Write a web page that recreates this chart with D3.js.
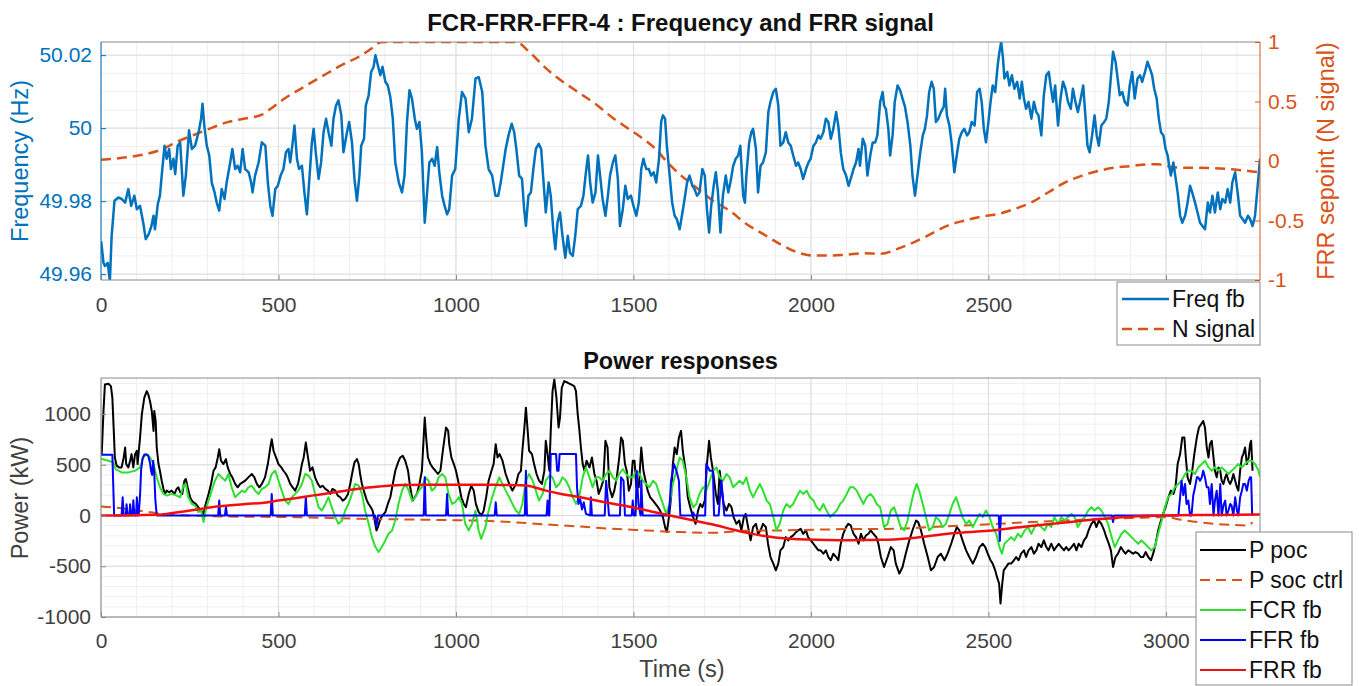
<!DOCTYPE html>
<html>
<head>
<meta charset="utf-8">
<title>FCR-FRR-FFR-4</title>
<script src="https://cdn.jsdelivr.net/npm/d3@7"></script>
<style>
    html, body { margin: 0; padding: 0; background: #fff; }
    svg { display: block; font-family: "Liberation Sans", Arial, sans-serif; }
</style>
</head>
<body>
<div id="chartContainer"></div>
<script>
// ---- data ----
const timeTicks = [0, 500, 1000, 1500, 2000, 2500, 3000];
const freqTicks = [49.96, 49.98, 50, 50.02];
const nTicks = [-1, -0.5, 0, 0.5, 1];
const powerTicks = [-1000, -500, 0, 500, 1000];

// [time s, frequency Hz]
const freqFb = [[0,49.9690],[2,49.9677],[7,49.9631],[11,49.9622],[19,49.9631],[25,49.9581],[30,49.9705],[38,49.9801],[49,49.9810],[58,49.9806],[68,49.9796],[77,49.9833],[85,49.9787],[94,49.9815],[101,49.9778],[110,49.9787],[119,49.9741],[126,49.9696],[134,49.9709],[141,49.9728],[148,49.9760],[152,49.9723],[160,49.9792],[166,49.9815],[171,49.9870],[179,49.9952],[185,49.9916],[192,49.9943],[197,49.9888],[204,49.9916],[209,49.9874],[216,49.9952],[223,49.9961],[232,49.9815],[239,49.9870],[248,49.9994],[256,49.9943],[265,49.9952],[275,49.9989],[282,50.0026],[286,50.0067],[291,50.0007],[298,49.9952],[305,49.9925],[312,49.9851],[320,49.9824],[326,49.9796],[333,49.9774],[340,49.9833],[348,49.9806],[354,49.9851],[364,49.9906],[370,49.9943],[378,49.9888],[385,49.9897],[392,49.9879],[399,49.9943],[406,49.9888],[416,49.9879],[423,49.9851],[427,49.9824],[434,49.9870],[444,49.9906],[453,49.9961],[463,49.9952],[470,49.9851],[477,49.9787],[483,49.9760],[491,49.9833],[498,49.9842],[506,49.9870],[514,49.9888],[521,49.9934],[528,49.9943],[533,49.9906],[540,49.9961],[545,50.0007],[552,49.9916],[558,49.9888],[566,49.9897],[573,49.9824],[580,49.9764],[587,49.9861],[594,49.9961],[599,49.9998],[605,49.9934],[613,49.9861],[620,49.9906],[627,49.9989],[634,50.0026],[641,49.9989],[649,49.9952],[655,50.0026],[662,50.0062],[669,50.0076],[677,50.0035],[683,49.9934],[693,49.9989],[699,50.0017],[707,49.9961],[714,49.9861],[721,49.9801],[728,49.9870],[733,49.9952],[741,49.9971],[746,50.0062],[754,50.0090],[761,50.0154],[768,50.0168],[773,50.0200],[780,50.0172],[787,50.0145],[793,50.0168],[801,50.0127],[808,50.0117],[815,50.0085],[822,50.0026],[829,49.9906],[839,49.9851],[848,49.9824],[855,49.9870],[862,50.0017],[869,50.0104],[876,50.0081],[884,50.0026],[890,49.9998],[897,50.0017],[904,49.9934],[912,49.9741],[918,49.9815],[925,49.9906],[933,49.9916],[940,49.9897],[947,49.9948],[953,49.9879],[961,49.9815],[968,49.9787],[975,49.9764],[981,49.9778],[989,49.9870],[998,49.9888],[1008,50.0026],[1017,50.0099],[1027,50.0081],[1036,49.9989],[1045,50.0026],[1055,50.0136],[1064,50.0140],[1074,50.0099],[1083,49.9952],[1092,49.9888],[1102,49.9870],[1111,49.9815],[1119,49.9815],[1126,49.9851],[1133,49.9897],[1140,49.9943],[1148,49.9980],[1157,50.0012],[1164,49.9989],[1170,49.9943],[1178,49.9870],[1186,49.9861],[1192,49.9778],[1197,49.9732],[1204,49.9815],[1211,49.9824],[1218,49.9888],[1225,49.9943],[1233,49.9957],[1240,49.9943],[1246,49.9861],[1253,49.9769],[1261,49.9851],[1267,49.9815],[1274,49.9723],[1280,49.9668],[1286,49.9741],[1293,49.9769],[1300,49.9705],[1308,49.9645],[1315,49.9705],[1321,49.9659],[1329,49.9650],[1336,49.9705],[1343,49.9778],[1352,49.9787],[1359,49.9815],[1366,49.9879],[1372,49.9925],[1378,49.9851],[1385,49.9796],[1393,49.9824],[1400,49.9925],[1406,49.9870],[1413,49.9806],[1421,49.9760],[1428,49.9815],[1434,49.9870],[1442,49.9906],[1449,49.9925],[1456,49.9861],[1462,49.9732],[1470,49.9778],[1477,49.9842],[1484,49.9806],[1493,49.9815],[1500,49.9787],[1508,49.9760],[1515,49.9796],[1522,49.9888],[1528,49.9916],[1536,49.9888],[1543,49.9888],[1550,49.9870],[1557,49.9879],[1564,49.9851],[1572,49.9916],[1578,50.0017],[1583,50.0035],[1589,50.0026],[1594,49.9952],[1602,49.9870],[1609,49.9796],[1616,49.9760],[1622,49.9751],[1630,49.9723],[1638,49.9769],[1644,49.9806],[1651,49.9851],[1658,49.9870],[1666,49.9842],[1672,49.9833],[1679,49.9815],[1686,49.9824],[1694,49.9888],[1701,49.9870],[1707,49.9778],[1713,49.9714],[1719,49.9787],[1726,49.9842],[1732,49.9879],[1738,49.9824],[1745,49.9714],[1752,49.9815],[1760,49.9870],[1767,49.9824],[1773,49.9851],[1781,49.9897],[1788,49.9916],[1795,49.9925],[1801,49.9952],[1809,49.9815],[1814,49.9796],[1818,49.9870],[1826,49.9961],[1832,49.9989],[1837,49.9998],[1845,49.9943],[1851,49.9824],[1858,49.9897],[1865,49.9906],[1873,49.9934],[1880,50.0044],[1886,50.0072],[1894,50.0099],[1901,50.0108],[1908,50.0062],[1914,49.9952],[1922,49.9961],[1929,49.9989],[1936,49.9961],[1943,49.9952],[1950,49.9925],[1958,49.9897],[1964,49.9906],[1971,49.9888],[1978,49.9861],[1986,49.9888],[1993,49.9906],[1999,49.9916],[2007,49.9952],[2014,49.9961],[2021,49.9980],[2027,49.9971],[2035,49.9989],[2042,50.0026],[2049,50.0017],[2056,49.9971],[2063,49.9998],[2071,50.0044],[2077,50.0007],[2084,49.9934],[2091,49.9888],[2099,49.9870],[2106,49.9842],[2112,49.9861],[2120,49.9888],[2127,49.9906],[2134,49.9943],[2138,49.9897],[2146,49.9971],[2153,49.9952],[2159,49.9870],[2167,49.9925],[2174,49.9961],[2181,49.9961],[2187,49.9980],[2195,50.0072],[2202,50.0099],[2206,50.0062],[2211,50.0053],[2218,49.9998],[2223,49.9925],[2230,49.9980],[2236,50.0072],[2244,50.0117],[2251,50.0104],[2258,50.0081],[2265,50.0058],[2272,50.0017],[2280,49.9952],[2286,49.9870],[2293,49.9815],[2300,49.9870],[2308,49.9934],[2315,49.9980],[2321,49.9998],[2327,50.0035],[2333,50.0099],[2340,50.0127],[2346,50.0108],[2352,50.0017],[2359,50.0026],[2366,50.0044],[2374,50.0058],[2378,50.0108],[2383,50.0035],[2390,50.0007],[2396,49.9961],[2404,49.9879],[2412,49.9934],[2418,49.9971],[2425,49.9989],[2432,49.9998],[2440,49.9980],[2446,49.9989],[2453,50.0017],[2461,50.0007],[2468,50.0099],[2475,50.0108],[2481,50.0072],[2487,49.9998],[2493,49.9961],[2500,50.0017],[2506,50.0072],[2512,50.0117],[2519,50.0099],[2526,50.0172],[2531,50.0209],[2536,50.0237],[2541,50.0191],[2545,50.0136],[2553,50.0154],[2559,50.0117],[2566,50.0145],[2573,50.0108],[2581,50.0127],[2588,50.0081],[2594,50.0127],[2600,50.0081],[2606,50.0053],[2613,50.0072],[2621,50.0026],[2628,50.0072],[2635,50.0044],[2641,50.0035],[2649,49.9980],[2656,50.0090],[2663,50.0145],[2670,50.0154],[2675,50.0117],[2682,50.0072],[2688,50.0117],[2696,50.0007],[2703,50.0081],[2710,50.0127],[2717,50.0108],[2724,50.0072],[2732,50.0053],[2738,50.0108],[2745,50.0072],[2752,50.0044],[2760,50.0081],[2767,50.0117],[2773,50.0035],[2779,49.9952],[2785,49.9934],[2792,49.9980],[2799,50.0035],[2805,49.9980],[2811,49.9952],[2818,50.0007],[2826,50.0017],[2832,50.0026],[2839,50.0072],[2847,50.0163],[2851,50.0209],[2858,50.0182],[2864,50.0136],[2870,50.0090],[2877,50.0099],[2884,50.0072],[2892,50.0062],[2898,50.0117],[2905,50.0154],[2912,50.0081],[2920,50.0136],[2927,50.0145],[2933,50.0127],[2941,50.0154],[2948,50.0182],[2955,50.0163],[2961,50.0145],[2967,50.0108],[2974,50.0081],[2980,50.0026],[2986,49.9989],[2993,49.9980],[2999,49.9943],[3005,49.9925],[3009,49.9897],[3014,49.9870],[3021,49.9906],[3025,49.9879],[3033,49.9824],[3040,49.9760],[3046,49.9741],[3054,49.9760],[3061,49.9796],[3068,49.9842],[3074,49.9824],[3082,49.9796],[3089,49.9769],[3096,49.9741],[3103,49.9732],[3110,49.9723],[3118,49.9796],[3124,49.9769],[3131,49.9815],[3138,49.9769],[3146,49.9824],[3153,49.9778],[3159,49.9806],[3167,49.9796],[3174,49.9833],[3181,49.9796],[3187,49.9851],[3195,49.9879],[3203,49.9815],[3209,49.9760],[3216,49.9751],[3223,49.9741],[3231,49.9760],[3237,49.9751],[3244,49.9732],[3251,49.9760],[3256,49.9815],[3261,49.9870],[3265,49.9916]];

// [time s, N signal]
const nSignal = [[0,0.01],[77,0.033],[124,0.056],[171,0.097],[218,0.167],[265,0.223],[312,0.279],[359,0.329],[406,0.357],[453,0.39],[481,0.446],[519,0.529],[566,0.613],[622,0.71],[679,0.808],[735,0.891],[763,0.947],[787,0.997],[800,1],[1169,1],[1206,0.919],[1253,0.78],[1300,0.669],[1348,0.571],[1395,0.474],[1442,0.362],[1489,0.265],[1536,0.167],[1564,0.097],[1592,0.0],[1630,-0.111],[1677,-0.223],[1724,-0.334],[1771,-0.418],[1818,-0.529],[1865,-0.613],[1912,-0.696],[1960,-0.766],[2007,-0.794],[2054,-0.794],[2101,-0.786],[2150,-0.776],[2197,-0.78],[2244,-0.738],[2291,-0.682],[2338,-0.613],[2385,-0.543],[2432,-0.501],[2479,-0.468],[2526,-0.446],[2573,-0.404],[2621,-0.348],[2668,-0.265],[2715,-0.181],[2762,-0.125],[2809,-0.084],[2856,-0.056],[2903,-0.042],[2950,-0.028],[2978,-0.028],[3016,-0.05],[3054,-0.056],[3091,-0.056],[3138,-0.061],[3186,-0.07],[3233,-0.084],[3265,-0.097]];

// [time s, kW]
const pPoc = [[0,600],[2,605],[7,1030],[11,1292],[21,1298],[28,1275],[32,1161],[36,834],[39,572],[44,491],[51,474],[58,474],[64,572],[68,670],[71,507],[77,474],[82,540],[86,605],[91,474],[96,605],[101,638],[103,507],[110,768],[115,997],[122,1161],[129,1226],[133,1194],[138,1128],[143,1030],[148,834],[150,1030],[154,932],[157,670],[162,507],[166,441],[171,343],[176,262],[180,213],[185,245],[192,229],[199,245],[207,213],[213,262],[218,278],[223,229],[229,213],[235,343],[239,360],[244,278],[251,180],[256,147],[260,131],[267,114],[274,82],[282,49],[289,16],[295,114],[303,213],[310,311],[317,441],[323,474],[329,572],[333,654],[338,540],[345,507],[352,556],[357,474],[364,409],[370,376],[378,311],[385,278],[392,311],[399,327],[406,343],[415,376],[425,409],[432,376],[439,311],[446,278],[453,311],[462,376],[470,507],[477,670],[481,752],[486,638],[493,572],[500,507],[508,474],[514,441],[521,409],[526,376],[533,311],[540,278],[547,245],[555,311],[561,409],[566,507],[571,572],[577,719],[583,572],[589,441],[596,474],[603,376],[611,311],[618,278],[624,294],[632,262],[639,245],[646,213],[652,262],[660,245],[667,196],[674,180],[681,147],[688,164],[696,213],[702,311],[709,441],[714,523],[721,556],[726,507],[730,409],[735,311],[743,213],[749,147],[754,114],[760,82],[765,49],[771,-49],[776,-147],[780,-114],[787,-33],[793,0],[801,33],[808,114],[815,180],[822,311],[829,441],[837,523],[843,572],[850,589],[857,540],[865,441],[871,278],[878,147],[884,180],[890,213],[897,311],[904,441],[909,768],[912,965],[916,768],[921,572],[928,507],[934,474],[942,441],[949,409],[956,441],[963,638],[968,768],[972,867],[978,834],[981,703],[987,572],[994,507],[1000,441],[1008,311],[1015,180],[1022,114],[1028,82],[1036,213],[1043,294],[1050,245],[1056,114],[1064,33],[1072,0],[1078,49],[1085,180],[1092,343],[1100,441],[1106,507],[1112,703],[1117,572],[1123,605],[1131,540],[1140,409],[1150,311],[1159,245],[1169,311],[1176,409],[1183,441],[1187,638],[1192,834],[1197,1063],[1202,834],[1206,638],[1214,605],[1220,507],[1227,409],[1234,343],[1242,311],[1249,441],[1253,736],[1258,605],[1263,441],[1267,834],[1272,1226],[1277,1341],[1283,1161],[1289,867],[1293,965],[1298,1259],[1305,1324],[1315,1308],[1324,1292],[1333,1275],[1338,1226],[1343,997],[1347,867],[1352,670],[1357,507],[1362,441],[1368,540],[1376,474],[1383,572],[1390,409],[1396,343],[1402,213],[1409,278],[1415,343],[1421,736],[1427,670],[1432,278],[1440,180],[1446,245],[1453,376],[1460,572],[1465,768],[1470,736],[1476,507],[1481,441],[1487,245],[1493,311],[1498,540],[1503,540],[1508,278],[1515,278],[1522,670],[1528,441],[1534,343],[1540,245],[1547,180],[1555,147],[1562,114],[1569,82],[1575,49],[1583,-16],[1589,-114],[1594,-163],[1600,-16],[1606,180],[1611,507],[1616,670],[1622,605],[1628,768],[1634,834],[1639,638],[1647,441],[1653,180],[1660,82],[1668,-16],[1675,-82],[1682,49],[1688,114],[1694,82],[1701,147],[1707,507],[1713,736],[1718,572],[1724,441],[1732,213],[1738,114],[1743,441],[1748,278],[1754,114],[1762,49],[1769,114],[1776,82],[1782,-16],[1790,-82],[1798,-49],[1804,-147],[1811,-16],[1816,16],[1823,-114],[1830,-245],[1837,-114],[1845,-82],[1851,-180],[1858,-147],[1865,-82],[1873,-114],[1879,-278],[1886,-409],[1894,-474],[1901,-540],[1908,-474],[1914,-343],[1922,-311],[1929,-213],[1936,-245],[1943,-213],[1950,-196],[1958,-164],[1964,-147],[1971,-131],[1978,-180],[1986,-147],[1992,-213],[1999,-245],[2007,-278],[2014,-311],[2021,-343],[2027,-343],[2035,-376],[2042,-343],[2049,-409],[2056,-441],[2063,-376],[2071,-409],[2077,-441],[2084,-278],[2091,-180],[2099,-114],[2105,-82],[2112,-98],[2120,-180],[2127,-213],[2134,-278],[2141,-180],[2148,-245],[2155,-196],[2162,-180],[2168,-147],[2176,-180],[2184,-213],[2190,-278],[2197,-409],[2206,-507],[2216,-409],[2225,-311],[2233,-343],[2239,-474],[2249,-572],[2258,-507],[2267,-376],[2277,-245],[2286,-147],[2296,-49],[2302,-65],[2310,-147],[2319,-278],[2329,-409],[2338,-540],[2347,-507],[2357,-409],[2366,-376],[2376,-441],[2385,-376],[2395,-278],[2404,-180],[2411,-114],[2418,-147],[2427,-245],[2437,-343],[2446,-409],[2456,-474],[2465,-409],[2475,-311],[2484,-278],[2491,-311],[2498,-376],[2506,-441],[2512,-474],[2519,-540],[2524,-605],[2530,-670],[2534,-867],[2538,-703],[2543,-540],[2550,-507],[2556,-474],[2564,-474],[2572,-441],[2578,-409],[2585,-441],[2592,-376],[2600,-343],[2606,-409],[2613,-343],[2621,-311],[2628,-376],[2635,-343],[2641,-278],[2649,-311],[2656,-245],[2663,-311],[2669,-343],[2677,-278],[2685,-343],[2691,-311],[2698,-278],[2705,-311],[2713,-343],[2719,-311],[2726,-343],[2734,-311],[2741,-278],[2748,-343],[2754,-278],[2762,-311],[2769,-245],[2776,-213],[2782,-147],[2790,-82],[2798,-49],[2804,-114],[2811,-49],[2818,-82],[2826,-147],[2832,-213],[2839,-278],[2845,-343],[2851,-507],[2858,-409],[2865,-376],[2873,-311],[2879,-343],[2886,-376],[2894,-343],[2901,-360],[2908,-376],[2914,-360],[2922,-376],[2929,-409],[2936,-409],[2943,-360],[2950,-409],[2958,-441],[2964,-376],[2971,-278],[2978,-147],[2986,-49],[2992,16],[2999,82],[3007,180],[3014,245],[3021,213],[3027,278],[3033,507],[3040,605],[3046,768],[3052,768],[3056,572],[3061,376],[3068,311],[3074,441],[3080,605],[3087,768],[3093,867],[3099,899],[3105,932],[3110,867],[3115,670],[3120,572],[3124,703],[3129,736],[3134,572],[3138,441],[3143,376],[3148,474],[3153,441],[3157,343],[3162,311],[3167,376],[3171,409],[3176,343],[3181,311],[3185,343],[3190,409],[3195,343],[3200,278],[3204,245],[3209,441],[3214,572],[3218,605],[3223,670],[3228,507],[3233,572],[3237,703],[3240,736],[3244,441]];

const pSocCtrl = [[0,90],[30,82],[105,49],[171,16],[246,0],[359,-10],[547,-16],[735,-33],[923,-42],[1111,-56],[1253,-88],[1347,-108],[1442,-131],[1536,-147],[1630,-163],[1724,-170],[1818,-150],[1912,-147],[2007,-140],[2101,-134],[2244,-131],[2338,-114],[2432,-98],[2526,-82],[2621,-65],[2715,-49],[2809,-33],[2903,-25],[2997,-16],[3044,-42],[3091,-65],[3138,-82],[3185,-92],[3232,-98],[3244,-65]];

const fcrFb = [[0,560],[21,540],[35,523],[41,458],[58,425],[77,425],[96,441],[110,474],[119,572],[129,605],[138,572],[148,507],[157,376],[166,278],[176,213],[185,196],[199,213],[213,196],[223,180],[232,294],[239,311],[246,180],[256,114],[265,98],[274,33],[282,49],[289,-65],[295,49],[303,147],[312,245],[321,343],[331,409],[340,376],[350,343],[359,409],[368,278],[378,180],[387,213],[397,245],[406,229],[415,278],[425,294],[434,245],[444,213],[453,262],[462,278],[472,311],[481,409],[491,441],[500,343],[509,245],[519,147],[528,114],[538,180],[547,213],[556,245],[566,311],[575,409],[585,392],[594,343],[603,213],[613,82],[622,49],[632,114],[641,180],[650,82],[660,-16],[669,-82],[679,-49],[688,49],[697,114],[707,213],[716,311],[726,294],[735,213],[744,49],[754,-82],[763,-213],[773,-311],[782,-360],[791,-311],[801,-245],[810,-180],[820,-147],[829,-49],[838,114],[848,245],[857,311],[867,245],[876,147],[885,180],[895,245],[904,278],[914,376],[923,343],[932,245],[942,278],[951,376],[961,409],[970,376],[979,213],[989,114],[998,131],[1008,180],[1017,114],[1026,-82],[1036,-147],[1045,-82],[1055,49],[1064,-150],[1071,-230],[1083,-114],[1092,49],[1102,180],[1111,278],[1122,376],[1131,311],[1140,245],[1150,180],[1159,114],[1169,49],[1178,16],[1187,114],[1197,343],[1206,409],[1216,343],[1225,245],[1234,147],[1244,213],[1253,343],[1263,392],[1272,376],[1282,278],[1291,311],[1300,376],[1310,343],[1319,278],[1329,180],[1338,114],[1347,180],[1357,376],[1366,474],[1376,376],[1385,278],[1395,376],[1404,376],[1413,343],[1423,409],[1432,441],[1442,376],[1451,343],[1460,409],[1470,458],[1479,409],[1489,376],[1498,376],[1508,441],[1517,409],[1526,343],[1536,311],[1545,278],[1555,343],[1564,311],[1573,213],[1583,114],[1592,16],[1602,114],[1611,311],[1621,441],[1630,572],[1639,540],[1649,376],[1658,180],[1668,82],[1677,114],[1686,213],[1696,278],[1705,245],[1715,343],[1724,441],[1734,474],[1743,376],[1752,343],[1762,409],[1771,376],[1781,278],[1790,311],[1799,343],[1809,311],[1818,376],[1828,245],[1837,180],[1846,245],[1856,311],[1865,245],[1875,147],[1884,114],[1894,-16],[1903,-147],[1912,-82],[1922,49],[1931,114],[1941,82],[1950,114],[1959,180],[1969,245],[1978,213],[1988,245],[1997,180],[2007,147],[2016,82],[2025,49],[2035,114],[2044,49],[2054,-16],[2063,16],[2073,49],[2082,114],[2091,147],[2101,213],[2110,278],[2120,278],[2129,245],[2138,180],[2148,114],[2157,180],[2167,213],[2176,180],[2185,114],[2195,82],[2206,-114],[2216,-82],[2225,49],[2234,82],[2244,-16],[2253,-114],[2263,-147],[2272,-49],[2282,114],[2291,245],[2298,311],[2305,245],[2315,114],[2324,-16],[2333,-147],[2343,-114],[2352,-16],[2362,-49],[2371,-114],[2380,-82],[2390,16],[2399,114],[2409,180],[2418,82],[2427,-16],[2437,-82],[2446,-49],[2456,-114],[2465,-49],[2475,16],[2484,-16],[2493,49],[2503,-16],[2512,-114],[2522,-180],[2531,-311],[2538,-376],[2545,-278],[2555,-245],[2564,-213],[2573,-245],[2583,-180],[2592,-213],[2602,-147],[2611,-114],[2621,-180],[2630,-114],[2639,-82],[2649,-114],[2658,-147],[2668,-82],[2677,-114],[2686,-16],[2696,-82],[2705,-16],[2715,-49],[2724,-16],[2734,16],[2743,-16],[2752,-114],[2762,-49],[2771,-16],[2781,49],[2790,82],[2799,49],[2809,82],[2818,49],[2828,-16],[2837,-82],[2847,-213],[2856,-311],[2865,-245],[2875,-180],[2884,-147],[2894,-180],[2903,-213],[2912,-245],[2922,-278],[2931,-245],[2941,-278],[2950,-311],[2959,-343],[2969,-311],[2978,-180],[2988,-49],[2997,82],[3006,180],[3016,213],[3025,278],[3035,311],[3044,343],[3054,409],[3063,441],[3072,441],[3082,409],[3091,474],[3101,507],[3110,540],[3120,474],[3129,441],[3138,474],[3148,441],[3157,474],[3167,441],[3176,409],[3185,441],[3195,474],[3204,507],[3214,474],[3223,507],[3233,540],[3242,540],[3251,507],[3261,441],[3265,380]];

const ffrFb = [[0,598],[32,598],[37,0],[58,0],[61,180],[64,0],[70,0],[72,110],[75,0],[80,0],[82,110],[85,0],[89,0],[91,150],[94,0],[99,0],[101,180],[104,0],[106,0],[110,200],[113,450],[117,560],[122,600],[128,600],[133,590],[138,520],[141,440],[144,400],[147,540],[150,420],[153,160],[157,0],[330,0],[333,147],[336,0],[349,0],[352,82],[355,0],[478,0],[481,212],[484,0],[574,0],[577,180],[580,0],[772,0],[776,-110],[780,0],[909,0],[912,376],[915,0],[972,0],[975,212],[978,0],[1109,0],[1112,130],[1115,0],[1194,0],[1197,441],[1200,0],[1255,0],[1258,147],[1261,0],[1263,0],[1267,605],[1282,605],[1285,441],[1289,441],[1292,605],[1338,605],[1341,278],[1345,114],[1350,160],[1355,60],[1360,130],[1366,16],[1378,0],[1380,180],[1383,0],[1419,0],[1423,343],[1427,180],[1431,0],[1462,0],[1465,376],[1472,343],[1476,0],[1495,0],[1498,147],[1501,0],[1506,0],[1509,441],[1514,114],[1520,0],[1522,343],[1526,0],[1598,0],[1602,114],[1606,343],[1614,507],[1621,441],[1628,343],[1632,0],[1664,0],[1668,30],[1672,0],[1702,0],[1705,507],[1715,441],[1724,441],[1727,0],[1740,0],[1743,147],[1748,343],[1752,160],[1756,0],[2529,0],[2532,-250],[2535,0],[2848,0],[2851,-65],[2854,0],[3035,0],[3040,180],[3044,343],[3049,200],[3054,311],[3058,114],[3063,147],[3068,0],[3072,0],[3077,200],[3082,278],[3087,376],[3091,376],[3096,343],[3101,376],[3105,441],[3110,376],[3115,278],[3120,278],[3124,114],[3129,311],[3134,0],[3138,147],[3143,245],[3148,0],[3153,311],[3157,0],[3162,100],[3167,147],[3171,0],[3176,49],[3181,114],[3185,98],[3190,0],[3195,180],[3200,50],[3204,0],[3209,180],[3214,245],[3218,311],[3223,311],[3228,245],[3233,343],[3237,376],[3240,376],[3243,0]];

const frrFb = [[0,0],[171,10],[218,33],[265,56],[312,82],[359,98],[406,114],[453,124],[500,147],[547,170],[594,196],[641,219],[688,245],[735,268],[782,285],[810,294],[848,301],[923,304],[1017,304],[1111,302],[1159,300],[1200,294],[1253,245],[1300,210],[1358,176],[1420,130],[1500,78],[1550,40],[1603,0],[1670,-50],[1735,-98],[1782,-140],[1829,-176],[1875,-205],[1922,-225],[2017,-240],[2110,-243],[2200,-240],[2244,-235],[2280,-225],[2338,-200],[2400,-175],[2500,-150],[2600,-110],[2700,-75],[2815,-35],[2900,-12],[3000,0],[3100,5],[3200,8],[3265,10]];

// ---- layout ----
const W = 1359, H = 686;
const plotLeft = 101, plotRight = 1260;
const topPanel = { top: 42, bottom: 280 };
const botPanel = { top: 378, bottom: 617 };

const BLUE = "#0072BD", ORANGE = "#D95319";
const AXIS_GRAY = "#8a8a8a", TEXT_GRAY = "#404040";

const svg = d3.select("#chartContainer").append("svg")
    .attr("width", W)
    .attr("height", H);

svg.append("rect").attr("width", W).attr("height", H).attr("fill", "#fff");

const x = d3.scaleLinear().domain([0, 3265]).range([plotLeft, plotRight]);

drawTopPanel();
drawBottomPanel();

// grid lines, minor first then major
function drawGrid(g, yScale, yMinor, yMajor, panel) {
    const xMinor = d3.range(0, 3265, 100);
    g.selectAll(".vminor").data(xMinor).enter().append("line")
        .attr("x1", d => x(d)).attr("x2", d => x(d))
        .attr("y1", panel.top).attr("y2", panel.bottom)
        .attr("stroke", "#efefef").attr("stroke-width", 1);
    g.selectAll(".hminor").data(yMinor).enter().append("line")
        .attr("x1", plotLeft).attr("x2", plotRight)
        .attr("y1", d => yScale(d)).attr("y2", d => yScale(d))
        .attr("stroke", "#efefef").attr("stroke-width", 1);
    g.selectAll(".vmajor").data(timeTicks).enter().append("line")
        .attr("x1", d => x(d)).attr("x2", d => x(d))
        .attr("y1", panel.top).attr("y2", panel.bottom)
        .attr("stroke", "#dcdcdc").attr("stroke-width", 1);
    g.selectAll(".hmajor").data(yMajor).enter().append("line")
        .attr("x1", plotLeft).attr("x2", plotRight)
        .attr("y1", d => yScale(d)).attr("y2", d => yScale(d))
        .attr("stroke", "#dcdcdc").attr("stroke-width", 1);
}

function addClip(id, panel) {
    svg.append("clipPath").attr("id", id)
        .append("rect")
        .attr("x", plotLeft).attr("y", panel.top)
        .attr("width", plotRight - plotLeft).attr("height", panel.bottom - panel.top);
}

function drawSeries(g, data, yScale, color, width, dash, curve) {
    const line = d3.line()
        .x(d => x(d[0]))
        .y(d => yScale(d[1]))
        .curve(curve || d3.curveLinear);
    g.append("path")
        .datum(data)
        .attr("fill", "none")
        .attr("stroke", color)
        .attr("stroke-width", width)
        .attr("stroke-linejoin", "round")
        .attr("stroke-dasharray", dash || null)
        .attr("d", line);
}

// hidden: tick labels covered by a legend in the original
function drawXAxis(panel, labelY, hidden) {
    const ax = svg.append("g")
        .attr("transform", `translate(0,${panel.bottom})`)
        .call(d3.axisBottom(x).tickValues(timeTicks).tickSizeInner(-5).tickSizeOuter(0).tickPadding(0).tickFormat(d => String(d)));
    ax.select(".domain").remove();
    ax.selectAll(".tick line").attr("stroke", AXIS_GRAY);
    ax.selectAll(".tick text")
        .attr("y", labelY - panel.bottom)
        .attr("dy", null)
        .attr("fill", TEXT_GRAY)
        .style("font-size", "21px");
    if (hidden) {
        ax.selectAll(".tick text").filter(d => hidden.includes(d)).remove();
    }
}

function drawBox(panel, leftColor, rightColor) {
    svg.append("line").attr("x1", plotLeft).attr("x2", plotRight)
        .attr("y1", panel.top).attr("y2", panel.top).attr("stroke", AXIS_GRAY);
    svg.append("line").attr("x1", plotLeft).attr("x2", plotRight)
        .attr("y1", panel.bottom).attr("y2", panel.bottom).attr("stroke", AXIS_GRAY);
    svg.append("line").attr("x1", plotLeft).attr("x2", plotLeft)
        .attr("y1", panel.top).attr("y2", panel.bottom).attr("stroke", leftColor);
    svg.append("line").attr("x1", plotRight).attr("x2", plotRight)
        .attr("y1", panel.top).attr("y2", panel.bottom).attr("stroke", rightColor);
}

function drawLegend(x0, y0, w, h, items) {
    const lg = svg.append("g");
    lg.append("rect")
        .attr("x", x0).attr("y", y0).attr("width", w).attr("height", h)
        .attr("fill", "#fff").attr("stroke", AXIS_GRAY);
    items.forEach(item => {
        lg.append("line")
            .attr("x1", item.x1).attr("x2", item.x2)
            .attr("y1", item.y).attr("y2", item.y)
            .attr("stroke", item.color)
            .attr("stroke-width", item.width)
            .attr("stroke-dasharray", item.dash || null);
        lg.append("text")
            .attr("x", item.x2 + 3).attr("y", item.y + 8)
            .attr("fill", "#111")
            .style("font-size", "23px")
            .text(item.label);
    });
}

// 上圖：頻率與 N 訊號
function drawTopPanel() {
    const yF = d3.scaleLinear().domain([49.9584, 50.0236]).range([topPanel.bottom, topPanel.top]);
    const yN = d3.scaleLinear().domain([-1, 1]).range([topPanel.bottom, topPanel.top]);

    const grid = svg.append("g");
    drawGrid(grid, yF, d3.range(0, 13).map(i => 49.96 + i * 0.005), freqTicks, topPanel);

    addClip("clipTop", topPanel);
    const lines = svg.append("g").attr("clip-path", "url(#clipTop)");
    drawSeries(lines, nSignal, yN, ORANGE, 2.5, "10,6", d3.curveMonotoneX);
    drawSeries(lines, freqFb, yF, BLUE, 2.5);

    drawBox(topPanel, BLUE, ORANGE);

    const left = svg.append("g")
        .attr("transform", `translate(${plotLeft},0)`)
        .call(d3.axisLeft(yF).tickValues(freqTicks).tickSizeInner(-5).tickSizeOuter(0).tickPadding(9)
            .tickFormat(d => String(+d.toFixed(2))));
    left.select(".domain").remove();
    left.selectAll(".tick line").attr("stroke", BLUE);
    left.selectAll(".tick text").attr("fill", BLUE).style("font-size", "21px");

    const right = svg.append("g")
        .attr("transform", `translate(${plotRight},0)`)
        .call(d3.axisRight(yN).tickValues(nTicks).tickSizeInner(-5).tickSizeOuter(0).tickPadding(8)
            .tickFormat(d => String(d)));
    right.select(".domain").remove();
    right.selectAll(".tick line").attr("stroke", ORANGE);
    right.selectAll(".tick text").attr("fill", ORANGE).style("font-size", "21px");

    // the 3000 label sits under the legend in the original
    drawXAxis(topPanel, 312, [3000]);

    svg.append("text")
        .attr("x", (plotLeft + plotRight) / 2).attr("y", 31)
        .attr("text-anchor", "middle")
        .style("font-size", "24px").style("font-weight", "bold")
        .attr("fill", "#111")
        .text("FCR-FRR-FFR-4 : Frequency and FRR signal");

    svg.append("text")
        .attr("transform", "translate(28,161) rotate(-90)")
        .attr("text-anchor", "middle")
        .attr("fill", BLUE)
        .style("font-size", "23.5px")
        .text("Frequency (Hz)");

    svg.append("text")
        .attr("transform", "translate(1334,161) rotate(-90)")
        .attr("text-anchor", "middle")
        .attr("fill", ORANGE)
        .style("font-size", "23.5px")
        .text("FRR sepoint (N signal)");

    drawLegend(1117, 282, 143, 63, [
        { label: "Freq fb", color: BLUE, width: 2.5, x1: 1122, x2: 1169, y: 299 },
        { label: "N signal", color: ORANGE, width: 2.5, dash: "10,6", x1: 1122, x2: 1169, y: 329 }
    ]);
}

// 下圖：功率響應
function drawBottomPanel() {
    const yP = d3.scaleLinear().domain([-1000, 1355]).range([botPanel.bottom, botPanel.top]);

    const grid = svg.append("g");
    drawGrid(grid, yP, d3.range(-1000, 1301, 100), powerTicks, botPanel);

    addClip("clipBot", botPanel);
    const lines = svg.append("g").attr("clip-path", "url(#clipBot)");
    drawSeries(lines, pPoc, yP, "#000", 2);
    drawSeries(lines, pSocCtrl, yP, ORANGE, 2, "10,6", d3.curveMonotoneX);
    drawSeries(lines, fcrFb, yP, "#2ee02e", 2);
    drawSeries(lines, ffrFb, yP, "#0000ff", 2);
    drawSeries(lines, frrFb, yP, "#f01010", 2.5, null, d3.curveMonotoneX);

    drawBox(botPanel, AXIS_GRAY, AXIS_GRAY);

    const left = svg.append("g")
        .attr("transform", `translate(${plotLeft},0)`)
        .call(d3.axisLeft(yP).tickValues(powerTicks).tickSizeInner(-5).tickSizeOuter(0).tickPadding(10)
            .tickFormat(d => String(d)));
    left.select(".domain").remove();
    left.selectAll(".tick line").attr("stroke", AXIS_GRAY);
    left.selectAll(".tick text").attr("fill", TEXT_GRAY).style("font-size", "21px");

    drawXAxis(botPanel, 648);

    svg.append("text")
        .attr("x", (plotLeft + plotRight) / 2).attr("y", 369)
        .attr("text-anchor", "middle")
        .style("font-size", "23.5px").style("font-weight", "bold")
        .attr("fill", "#111")
        .text("Power responses");

    svg.append("text")
        .attr("transform", "translate(28,498) rotate(-90)")
        .attr("text-anchor", "middle")
        .attr("fill", TEXT_GRAY)
        .style("font-size", "23.5px")
        .text("Power (kW)");

    svg.append("text")
        .attr("x", 682).attr("y", 677)
        .attr("text-anchor", "middle")
        .attr("fill", TEXT_GRAY)
        .style("font-size", "23.5px")
        .text("Time (s)");

    drawLegend(1196, 532, 156, 153, [
        { label: "P poc", color: "#000", width: 2, x1: 1200, x2: 1246, y: 550 },
        { label: "P soc ctrl", color: ORANGE, width: 2, dash: "10,6", x1: 1200, x2: 1246, y: 580 },
        { label: "FCR fb", color: "#2ee02e", width: 2, x1: 1200, x2: 1246, y: 610 },
        { label: "FFR fb", color: "#0000ff", width: 2, x1: 1200, x2: 1246, y: 640 },
        { label: "FRR fb", color: "#f01010", width: 2, x1: 1200, x2: 1246, y: 670 }
    ]);
}
</script>
</body>
</html>
